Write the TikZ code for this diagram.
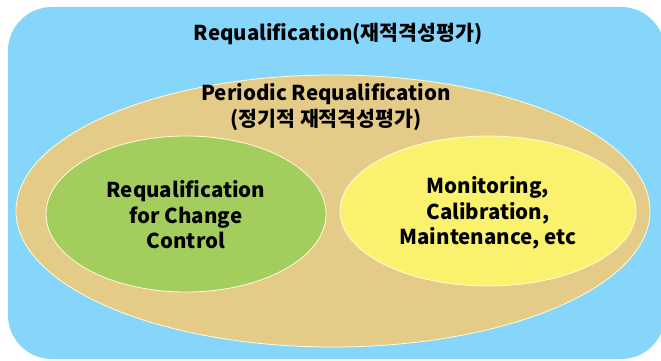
\documentclass[tikz,border=0pt]{standalone}
\usepackage{fontspec}
\setmainfont{Noto Sans CJK KR}
\usetikzlibrary{shapes.geometric}

\definecolor{skyfill}{RGB}{134,214,252}
\definecolor{tanfill}{RGB}{228,204,136}
\definecolor{greenfill}{RGB}{163,206,94}
\definecolor{yellowfill}{RGB}{250,242,110}

\begin{document}
\begin{tikzpicture}[
        x = 1pt, y = -1pt,
        line join=round,
        blob/.style = {ellipse, draw=white!85!yellow, line width=0.8pt, inner sep=0pt},
        label/.style = {font=\bfseries\fontsize{20.5}{25.5}\selectfont, align=center, text=black}
    ]

    \useasboundingbox[fill=white] (0, 0) rectangle (661, 361);
    \clip (0, 0) rectangle (661, 361);

    \coordinate (tanc) at (333, 211);
    \coordinate (greenc) at (186, 214);
    \coordinate (yellowc) at (488, 211);

    \fill[skyfill, rounded corners=44pt] (8, 7) rectangle (665, 359);

    \node[blob, fill=tanfill, minimum width=634pt, minimum height=272pt] (periodic) at (tanc) {};
    \node[blob, fill=greenfill, minimum width=280pt, minimum height=156pt] (change) at (greenc) {};
    \node[blob, fill=yellowfill, minimum width=296pt, minimum height=150pt] (monitor) at (yellowc) {};

    \node[label] (title) at (338, 34) {Requalification(재적격성평가)};
    \node[label] (periodictext) at (326, 107) {Periodic Requalification\\(정기적 재적격성평가)};
    \node[label] (changetext) at ([yshift=-1pt]change.center) {Requalification\\for Change\\Control};
    \node[label] (monitortext) at ([yshift=-2pt]monitor.center) {Monitoring,\\Calibration,\\Maintenance, etc};

\end{tikzpicture}
\end{document}
